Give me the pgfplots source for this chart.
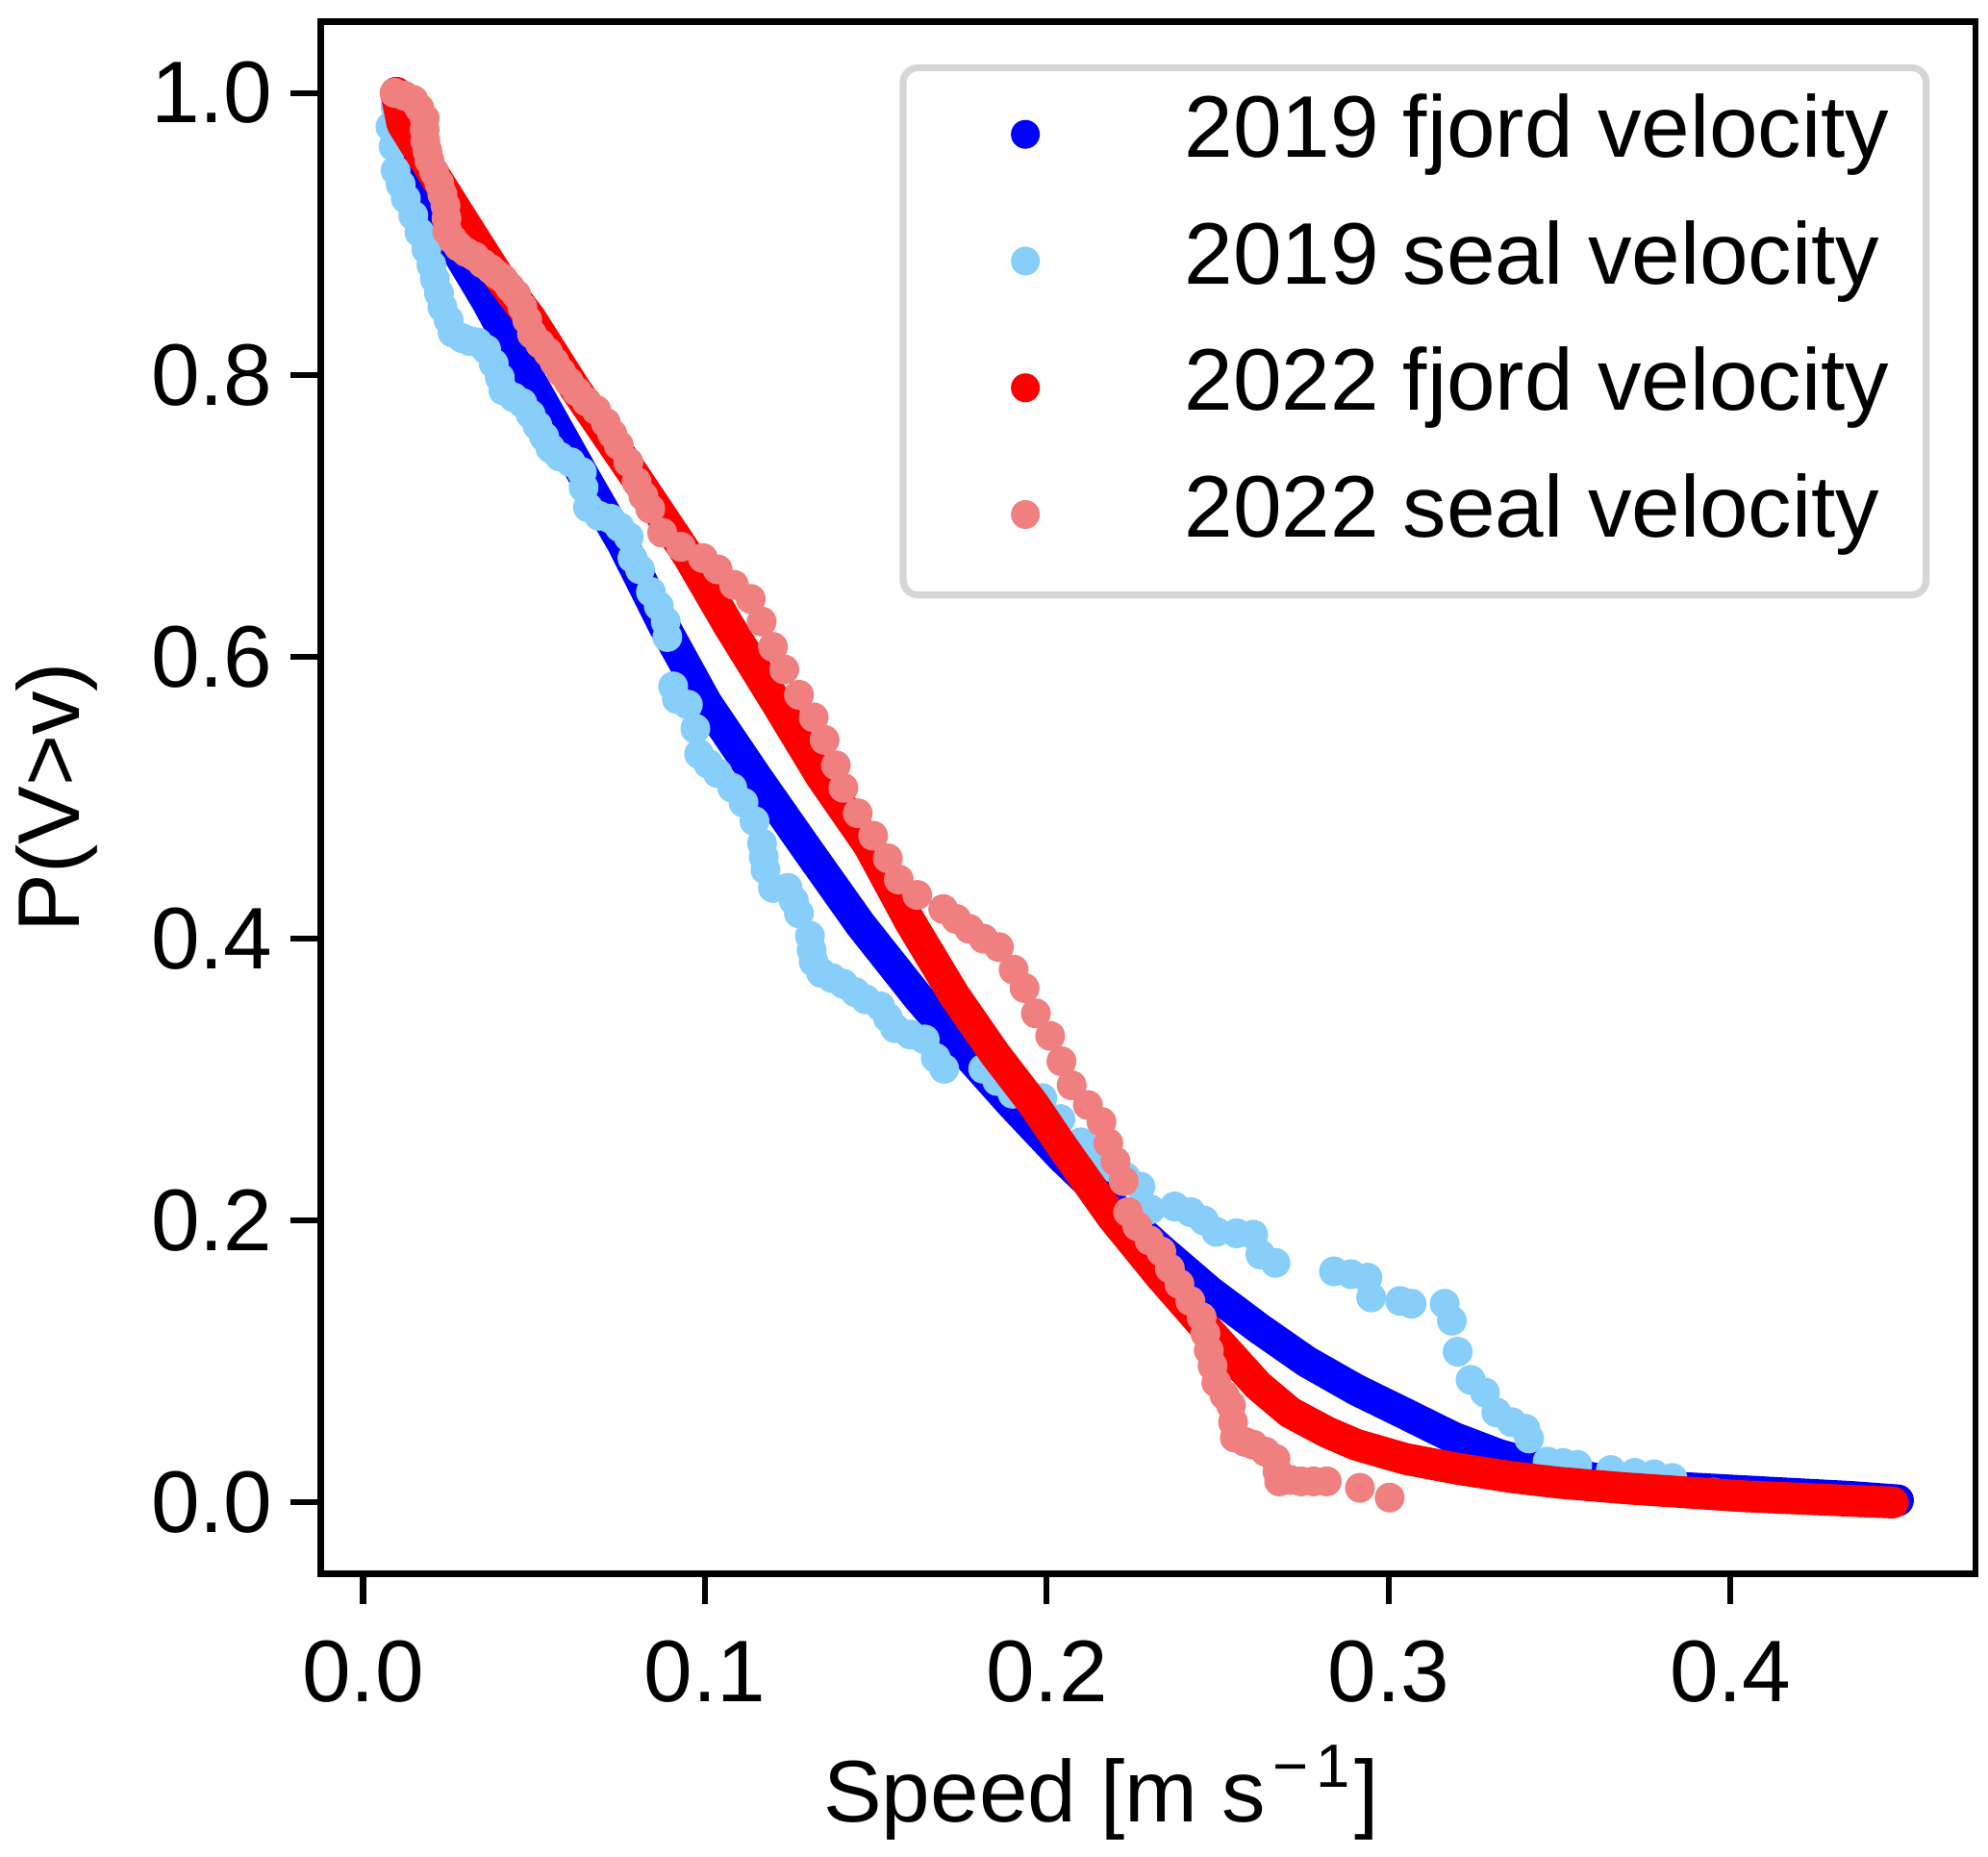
\documentclass[border=0pt]{standalone}
\usepackage{fontspec}
\setmainfont{Liberation Sans}
\usepackage{pgfplots}
\pgfplotsset{compat=1.18}
\definecolor{lsblue}{RGB}{135,206,250}
\definecolor{lcoral}{RGB}{240,128,128}
\definecolor{lgframe}{RGB}{214,214,214}
\newcommand\fs{\fontsize{17.6pt}{21pt}\selectfont}
\pgfplotsset{
  dotlegend/.style={legend image code/.code={%
    \path[draw=none,fill=none] (0pt,-5pt) rectangle (49.2pt,5pt);
    \fill[draw=none,fill=#1] (17.2pt,1.4pt) circle (2.9pt);}},
}
\begin{document}
\begin{tikzpicture}
\path[use as bounding box] (-64.6pt,-56.9pt) rectangle (335.4pt,316.65pt);
\begin{axis}[
  at={(0pt,0pt)}, anchor=south west,
  width=332.9pt, height=312.3pt, scale only axis,
  clip marker paths=true,
  xmin=-0.0123, xmax=0.4717, ymin=-0.0504, ymax=1.0506,
  xtick={0,0.1,0.2,0.3,0.4}, xticklabels={0.0,0.1,0.2,0.3,0.4},
  ytick={0,0.2,0.4,0.6,0.8,1.0}, yticklabels={0.0,0.2,0.4,0.6,0.8,1.0},
  tick align=outside, xtick pos=bottom, ytick pos=left,
  major tick length=6.2pt,
  every tick/.style={black, line width=1.2pt},
  axis line style={line width=1.3pt},
  tick label style={font=\fs},
  xticklabel style={yshift=-3.8pt},
  label style={font=\fs},
  xlabel={Speed [m s\hspace{1.5pt}\raisebox{6.9pt}{\fontsize{12.3pt}{14pt}\selectfont −\hspace{1.5pt}1}\hspace{0.8pt}]},
  ylabel={P(V>v)},
  xlabel style={at={(axis description cs:0.4715,-0.1601)}, anchor=base},
  ylabel style={at={(axis description cs:-0.1595,0.5)}, anchor=center},
  legend cell align=left,
  legend style={at={(axis description cs:0.3497,0.9725)}, anchor=north west,
    draw=lgframe, line width=1.4pt, rounded corners=3pt, fill=white,
    inner xsep=7.4pt, inner ysep=6.3pt, row sep=8.5pt, column sep=0pt,
    font=\fs, nodes={inner sep=0pt, text height=11.7pt, text depth=5.3pt}},
]
% 2019 fjord velocity
\addplot[draw=blue, line width=6.4pt, line cap=round, line join=round, no marks, dotlegend=blue]
coordinates {
(0.0097,1.000) (0.0130,0.965) (0.0171,0.935) (0.0225,0.908) (0.0279,0.886)
(0.0363,0.852) (0.0466,0.806) (0.0570,0.761) (0.0660,0.722) (0.0760,0.680)
(0.0880,0.622) (0.1005,0.567) (0.1150,0.515) (0.1300,0.463) (0.1455,0.410)
(0.1625,0.358) (0.1760,0.320) (0.1900,0.282) (0.2044,0.245) (0.2190,0.211)
(0.2331,0.180) (0.2475,0.150) (0.2618,0.124) (0.2760,0.100) (0.2905,0.080)
(0.3023,0.066) (0.3190,0.046) (0.3320,0.034) (0.3450,0.025) (0.3600,0.017)
(0.3810,0.011) (0.4146,0.0066) (0.4350,0.004) (0.4490,0.0015)
};
\addlegendentry{2019 fjord velocity}
% 2019 seal velocity
\addplot[color=lsblue, only marks, mark=*, mark size=2.8pt, mark options={draw=none, fill=lsblue}, dotlegend=lsblue]
coordinates {
(0.0095,0.990) (0.0080,0.976) (0.0089,0.962) (0.0095,0.945) (0.0110,0.935)
(0.0125,0.925) (0.0147,0.913) (0.0165,0.901) (0.0185,0.889) (0.0200,0.878)
(0.0210,0.868) (0.0222,0.858) (0.0232,0.848) (0.0250,0.839) (0.0262,0.830)
(0.0290,0.826) (0.0312,0.824) (0.0335,0.823) (0.0360,0.818) (0.0382,0.808)
(0.0400,0.798) (0.0410,0.789) (0.0440,0.784) (0.0466,0.780) (0.0490,0.772)
(0.0510,0.764) (0.0530,0.756) (0.0548,0.748) (0.0575,0.742) (0.0607,0.738)
(0.0640,0.731) (0.0645,0.720) (0.0658,0.706) (0.0690,0.700) (0.0723,0.698)
(0.0750,0.692) (0.0777,0.685) (0.0788,0.670) (0.0810,0.662) (0.0842,0.646)
(0.0865,0.636) (0.0885,0.625) (0.0890,0.614) (0.0907,0.579) (0.0918,0.570)
(0.0950,0.566) (0.0972,0.549) (0.0983,0.531) (0.1010,0.524) (0.1037,0.5175)
(0.1080,0.507) (0.1113,0.4965) (0.1145,0.4834) (0.1167,0.4676) (0.1172,0.458)
(0.1177,0.449) (0.1199,0.436) (0.1242,0.436) (0.1260,0.427) (0.1275,0.418)
(0.1307,0.402) (0.1312,0.392) (0.1318,0.3836) (0.1340,0.3758) (0.1372,0.372)
(0.1405,0.368) (0.1440,0.362) (0.1470,0.357) (0.1513,0.352) (0.1535,0.344)
(0.1556,0.3365) (0.1600,0.332) (0.1643,0.3285) (0.1675,0.3154) (0.1700,0.3077)
(0.1814,0.3077) (0.1855,0.299) (0.1900,0.290) (0.1945,0.288) (0.1987,0.2869)
(0.2040,0.272) (0.2100,0.2555) (0.2145,0.247) (0.2188,0.238) (0.2230,0.231)
(0.2274,0.2241) (0.2303,0.208) (0.2374,0.2100) (0.2421,0.206) (0.2460,0.200)
(0.2496,0.192) (0.2555,0.191) (0.2604,0.190) (0.2625,0.176) (0.2669,0.170)
(0.2840,0.164) (0.2890,0.162) (0.2938,0.1595) (0.2949,0.1455) (0.3034,0.143)
(0.3067,0.141) (0.3164,0.141) (0.3185,0.129) (0.3202,0.107) (0.3240,0.087)
(0.3282,0.078) (0.3315,0.064) (0.3360,0.057) (0.3400,0.0523) (0.3411,0.0454)
(0.3465,0.029) (0.3510,0.028) (0.3552,0.0267) (0.3650,0.023) (0.3720,0.021)
(0.3777,0.020) (0.3830,0.0174) (0.3950,0.007) (0.4100,0.004) (0.4250,0.002)
};
\addlegendentry{2019 seal velocity}
% 2022 fjord velocity
\addplot[draw=red, line width=6.4pt, line cap=round, line join=round, no marks, dotlegend=red]
coordinates {
(0.0097,1.000) (0.0115,0.978) (0.0200,0.945) (0.0293,0.909) (0.0390,0.872)
(0.0490,0.840) (0.0621,0.790) (0.0790,0.730) (0.0950,0.672) (0.1070,0.622)
(0.1210,0.567) (0.1340,0.515) (0.1480,0.466) (0.1600,0.412) (0.1729,0.360)
(0.1849,0.318) (0.1960,0.283) (0.2044,0.253) (0.2190,0.203) (0.2331,0.161)
(0.2450,0.128) (0.2547,0.102) (0.2618,0.083) (0.2711,0.064) (0.2819,0.050)
(0.2905,0.041) (0.3048,0.031) (0.3200,0.024) (0.3360,0.018) (0.3500,0.014)
(0.3697,0.010) (0.4034,0.0045) (0.4370,0.0010) (0.4475,0.0000)
};
\addlegendentry{2022 fjord velocity}
% 2022 seal velocity
\addplot[color=lcoral, only marks, mark=*, mark size=2.8pt, mark options={draw=none, fill=lcoral}, dotlegend=lcoral]
coordinates {
(0.0092,1.000) (0.0120,0.998) (0.0147,0.995) (0.0165,0.989) (0.0180,0.982)
(0.0180,0.974) (0.0182,0.966) (0.0188,0.959) (0.0194,0.952) (0.0208,0.944)
(0.0223,0.936) (0.0232,0.928) (0.0241,0.920) (0.0244,0.911) (0.0246,0.902)
(0.0262,0.896) (0.0279,0.891) (0.0302,0.887) (0.0326,0.884) (0.0350,0.879)
(0.0373,0.875) (0.0392,0.871) (0.0410,0.868) (0.0430,0.862) (0.0448,0.857)
(0.0466,0.848) (0.0480,0.839) (0.0494,0.829) (0.0518,0.822) (0.0541,0.816)
(0.0560,0.809) (0.0579,0.802) (0.0602,0.795) (0.0626,0.788) (0.0654,0.781)
(0.0682,0.775) (0.0710,0.766) (0.0729,0.758) (0.0748,0.750) (0.0776,0.738)
(0.0800,0.724) (0.0820,0.714) (0.0840,0.705) (0.0875,0.688) (0.0930,0.678)
(0.0994,0.670) (0.1037,0.662) (0.1085,0.651) (0.1134,0.641) (0.1166,0.625)
(0.1199,0.607) (0.1232,0.591) (0.1275,0.573) (0.1318,0.557) (0.1350,0.541)
(0.1383,0.523) (0.1405,0.507) (0.1447,0.489) (0.1492,0.473) (0.1535,0.457)
(0.1567,0.442) (0.1621,0.431) (0.1697,0.421) (0.1735,0.414) (0.1773,0.407)
(0.1815,0.400) (0.1860,0.394) (0.1903,0.378) (0.1935,0.365) (0.1968,0.347)
(0.2010,0.331) (0.2043,0.313) (0.2073,0.296) (0.2120,0.282) (0.2160,0.270)
(0.2180,0.255) (0.2201,0.242) (0.2225,0.228) (0.2238,0.206) (0.2265,0.196)
(0.2300,0.186) (0.2335,0.178) (0.2360,0.166) (0.2388,0.155) (0.2420,0.143)
(0.2453,0.1315) (0.2464,0.120) (0.2474,0.108) (0.2485,0.097) (0.2496,0.085)
(0.2520,0.076) (0.2539,0.069) (0.2545,0.057) (0.2550,0.046) (0.2580,0.043)
(0.2604,0.041) (0.2640,0.036) (0.2669,0.031) (0.2675,0.022) (0.2680,0.015)
(0.2712,0.016) (0.2744,0.015) (0.2780,0.015) (0.2819,0.015) (0.2916,0.0104)
(0.3003,0.0035)
};
\addlegendentry{2022 seal velocity}
\end{axis}
\end{tikzpicture}
\end{document}
